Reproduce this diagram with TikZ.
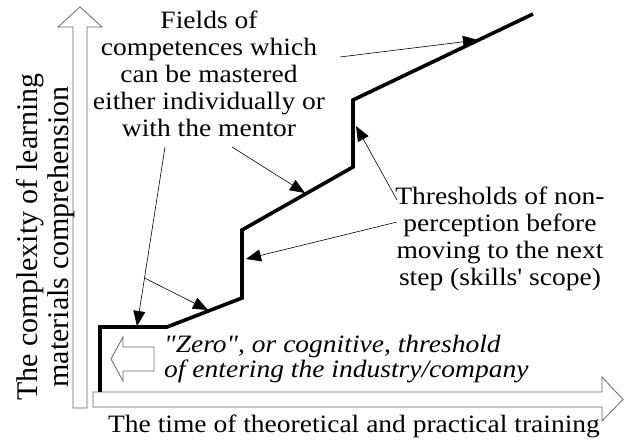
\documentclass[tikz,border=0pt]{standalone}
\usepackage{fontspec}
\setmainfont{Liberation Serif}
\newfontfamily\widefont[FakeStretch=1.1]{Liberation Serif}
\usetikzlibrary{arrows.meta,positioning,calc}
\tikzset{
  tnode/.style={inner sep=0pt,align=center,font=\widefont\fontsize{25}{27}\selectfont},
  anode/.style={inner sep=0pt,align=center,font=\fontsize{30}{31}\selectfont},
  se/.style={line width=3.6pt},
  pe/.style={-{Triangle[length=15pt,width=12pt]},line width=0.6pt},
  ae/.style={draw=black!60,line width=0.8pt,fill=white}
}

\begin{document}
\begin{tikzpicture}[x=1pt,y=-1pt]
\useasboundingbox (0,0) rectangle (624,443);
% axes
\draw[ae] (73,408) -- (73,27) -- (58,27) -- (80,7) -- (102,27) -- (87,27) -- (87,408) -- cycle;
\draw[ae] (93,392) -- (602,392) -- (602,377) -- (623,399.5) -- (602,421) -- (602,407) -- (93,407) -- cycle;
\draw[ae] (154,347) -- (123,347) -- (123,337) -- (111,359) -- (123,381) -- (123,371) -- (154,371) -- cycle;
% steps
\coordinate (s0) at (100,392);
\coordinate (s1) at (100,327);
\coordinate (s2) at (167,327);
\coordinate (s3) at (242,298);
\coordinate (s4) at (242,230);
\coordinate (s5) at (353,167);
\coordinate (s6) at (353,100);
\coordinate (s7) at (533,14);
\draw[se] (s0) -- (s1) -- (s2) -- (s3) -- (s4) -- (s5) -- (s6) -- (s7);
% texts
\node[tnode, anchor=north] (F) at (209,11) {Fields of\\competences which\\can be mastered\\either individually or\\with the mentor};
\node[tnode, anchor=north] (T) at (500,187) {Thresholds of non-\\perception before\\moving to the next\\step (skills' scope)};
\node[tnode, anchor=north west, align=left, font=\widefont\itshape\fontsize{25}{25}\selectfont] (Z) at (164,335) {"Zero", or cognitive, threshold\\of entering the industry/company};
\node[tnode, anchor=base] (X) at (354,433) {The time of theoretical and practical training};
\node[anode, rotate=90] (Y) at (46,237) {The complexity of learning\\materials comprehension};
% pointers
\coordinate (f1) at (340,57);
\coordinate (f2) at (232,147);
\coordinate (f3) at (165,147);
\coordinate (t1) at (397,200);
\coordinate (t2) at (397,222);
\coordinate (p1) at (478,40);
\coordinate (p2) at (305,193);
\coordinate (p3) at (137,326);
\coordinate (p4) at (208,310);
\coordinate (p5) at (356,126);
\coordinate (p6) at (246,259);
\coordinate (b) at ($(f3)!0.732!(p3)$);
\draw[pe] (f1) -- (p1);
\draw[pe] (f2) -- (p2);
\draw[pe] (f3) -- (p3);
\draw[pe] (b) -- (p4);
\draw[pe] (t1) -- (p5);
\draw[pe] (t2) -- (p6);
\end{tikzpicture}
\end{document}
